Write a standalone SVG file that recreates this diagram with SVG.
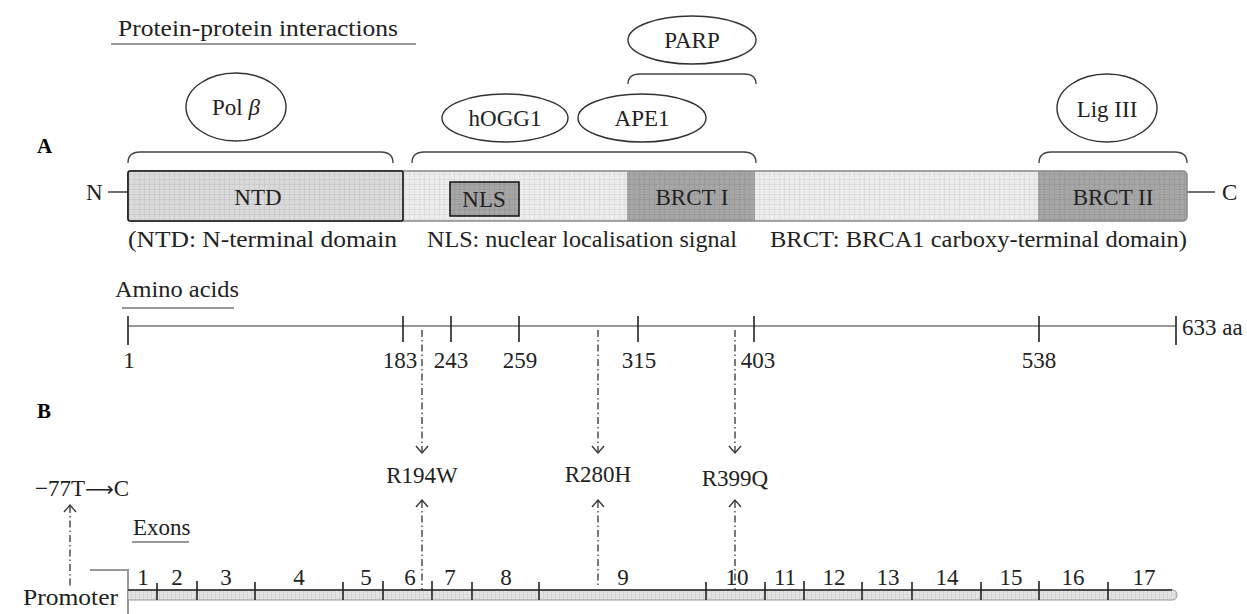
<svg xmlns="http://www.w3.org/2000/svg" width="1247" height="614" viewBox="0 0 1247 614">
<defs>
<style>
text{font-family:"Liberation Serif","Times New Roman",serif;fill:#222;font-size:23px}
.c{text-anchor:middle}
.b{font-weight:bold;font-size:21px;fill:#000}
.br{fill:none;stroke:#444;stroke-width:1.4}
.el{fill:#fff;stroke:#333;stroke-width:1.4}
.ul{stroke:#999;stroke-width:2.2}
.tk{stroke:#222;stroke-width:1.6}
.dd{stroke:#333;stroke-width:1.3;stroke-dasharray:7 3 1.5 3;fill:none}
.ah{fill:none;stroke:#333;stroke-width:1.3}
</style>
<pattern id="gL" width="5" height="5" patternUnits="userSpaceOnUse"><rect width="5" height="5" fill="#ececec"/><path d="M5 0V5M0 5H5" stroke="#cbcbcb" stroke-width="0.8"/></pattern>
<pattern id="gM" width="5" height="5" patternUnits="userSpaceOnUse"><rect width="5" height="5" fill="#dadada"/><path d="M5 0V5M0 5H5" stroke="#bbbbbb" stroke-width="0.8"/></pattern>
<pattern id="gD" width="5" height="5" patternUnits="userSpaceOnUse"><rect width="5" height="5" fill="#a6a6a6"/><path d="M5 0V5M0 5H5" stroke="#8c8c8c" stroke-width="0.8"/></pattern>
<pattern id="gE" width="4" height="10" patternUnits="userSpaceOnUse"><rect width="4" height="10" fill="#e2e2e2"/><path d="M4 0V10" stroke="#bdbdbd" stroke-width="0.8"/></pattern>
</defs>
<rect width="1247" height="614" fill="#fff"/>

<g id="panel-labels">
<text class="b" x="37" y="153">A</text>
<text class="b" x="37" y="418">B</text>
</g>

<g id="ppi-title">
<text x="118" y="36" textLength="280" lengthAdjust="spacingAndGlyphs">Protein-protein interactions</text>
<line class="ul" x1="111" y1="44" x2="416" y2="44"/>
</g>

<g id="polb">
<ellipse class="el" cx="236" cy="107" rx="50" ry="34"/>
<text class="c" x="236" y="115">Pol <tspan font-style="italic">β</tspan></text>
<path class="br" d="M128 163Q128 152 140 152H381Q393 152 393 163"/>
</g>

<g id="hogg1">
<ellipse class="el" cx="505" cy="118" rx="63" ry="24"/>
<text class="c" x="505" y="126">hOGG1</text>
</g>
<g id="ape1">
<ellipse class="el" cx="642" cy="118" rx="64" ry="24"/>
<text class="c" x="642" y="126">APE1</text>
</g>
<g id="parp">
<ellipse class="el" cx="692" cy="40" rx="64" ry="24"/>
<text class="c" x="692" y="48">PARP</text>
<path class="br" d="M628 84Q628 74 640 74H744Q756 74 756 84"/>
</g>
<g id="nls-bracket">
<path class="br" d="M412 163Q412 152 424 152H744Q756 152 756 163"/>
</g>
<g id="lig3">
<ellipse class="el" cx="1107" cy="108" rx="50" ry="34"/>
<text class="c" x="1107" y="117">Lig III</text>
<path class="br" d="M1039 163Q1039 152 1051 152H1175Q1187 152 1187 163"/>
</g>

<g id="protein">
<line x1="108" y1="192" x2="128" y2="192" stroke="#333" stroke-width="1.4"/>
<line x1="1187" y1="192" x2="1215" y2="192" stroke="#333" stroke-width="1.4"/>
<text x="86" y="200">N</text>
<text x="1222" y="200">C</text>
<rect x="128" y="171" width="1059" height="50" rx="4" fill="url(#gL)"/>
<rect x="627" y="171" width="128" height="50" fill="url(#gD)"/>
<path d="M1038 171H1182Q1187 171 1187 176V216Q1187 221 1182 221H1038Z" fill="url(#gD)"/>
<rect x="128" y="171" width="1059" height="50" rx="4" fill="none" stroke="#888" stroke-width="1.4"/>
<rect x="128" y="171" width="275" height="50" rx="2" fill="url(#gM)" stroke="#111" stroke-width="1.6"/>
<rect x="450" y="182" width="69" height="34" fill="url(#gD)" stroke="#111" stroke-width="1.5"/>
<text class="c" x="258" y="205">NTD</text>
<text class="c" x="484" y="207">NLS</text>
<text class="c" x="692" y="205">BRCT I</text>
<text class="c" x="1113" y="205">BRCT II</text>
</g>

<g id="legend">
<text x="128" y="247" textLength="269" lengthAdjust="spacingAndGlyphs">(NTD: N-terminal domain</text>
<text x="427" y="247" textLength="310" lengthAdjust="spacingAndGlyphs">NLS: nuclear localisation signal</text>
<text x="770" y="247" textLength="417" lengthAdjust="spacingAndGlyphs">BRCT: BRCA1 carboxy-terminal domain)</text>
</g>

<g id="aa-ruler">
<text x="115" y="297" textLength="124" lengthAdjust="spacingAndGlyphs">Amino acids</text>
<line class="ul" x1="122" y1="308" x2="234" y2="308"/>
<line x1="128" y1="326" x2="1176" y2="326" stroke="#999" stroke-width="2.2"/>
<line class="tk" x1="128" y1="316" x2="128" y2="345"/>
<line class="tk" x1="1176" y1="316" x2="1176" y2="345"/>
<line class="tk" x1="403" y1="316" x2="403" y2="342"/>
<line class="tk" x1="451" y1="316" x2="451" y2="342"/>
<line class="tk" x1="519" y1="316" x2="519" y2="342"/>
<line class="tk" x1="638" y1="316" x2="638" y2="342"/>
<line class="tk" x1="754" y1="316" x2="754" y2="342"/>
<line class="tk" x1="1039" y1="316" x2="1039" y2="342"/>
<text class="c" x="129" y="368">1</text>
<text class="c" x="400" y="368">183</text>
<text class="c" x="451" y="368">243</text>
<text class="c" x="520" y="368">259</text>
<text class="c" x="639" y="368">315</text>
<text class="c" x="758" y="368">403</text>
<text class="c" x="1039" y="368">538</text>
<text x="1182" y="335">633 aa</text>
</g>

<g id="connectors">
<line class="dd" x1="422" y1="330" x2="422" y2="452"/>
<polyline class="ah" points="416,446 422,453 428,446"/>
<line class="dd" x1="598" y1="330" x2="598" y2="452"/>
<polyline class="ah" points="592,446 598,453 604,446"/>
<line class="dd" x1="735" y1="330" x2="735" y2="452"/>
<polyline class="ah" points="729,446 735,453 741,446"/>
<line class="dd" x1="422" y1="501" x2="422" y2="590"/>
<polyline class="ah" points="416,507 422,500 428,507"/>
<line class="dd" x1="598" y1="501" x2="598" y2="588"/>
<polyline class="ah" points="592,507 598,500 604,507"/>
<line class="dd" x1="735" y1="501" x2="735" y2="590"/>
<polyline class="ah" points="729,507 735,500 741,507"/>
<line class="dd" x1="70" y1="506" x2="70" y2="588"/>
<polyline class="ah" points="64,512 70,505 76,512"/>
</g>

<g id="variants">
<text class="c" x="422" y="483">R194W</text>
<text class="c" x="598" y="482">R280H</text>
<text class="c" x="735" y="486">R399Q</text>
<text x="35" y="496">−77T<tspan font-family="DejaVu Sans" font-size="20">⟶</tspan>C</text>
</g>

<g id="gene">
<text x="133" y="535">Exons</text>
<line class="ul" x1="132" y1="542" x2="189" y2="542"/>
<path d="M90 570H128V614" fill="none" stroke="#999" stroke-width="2"/>
<text x="23" y="605" textLength="95" lengthAdjust="spacingAndGlyphs">Promoter</text>
<path d="M128 590H1172Q1177 590 1177 595Q1177 600 1172 600H128Z" fill="url(#gE)" stroke="#999" stroke-width="1"/>
<line x1="128" y1="590" x2="1172" y2="590" stroke="#222" stroke-width="1.4"/>
<g class="tk">
<line x1="157" y1="583" x2="157" y2="600"/>
<line x1="197" y1="581" x2="197" y2="600"/>
<line x1="255" y1="582" x2="255" y2="600"/>
<line x1="343" y1="582" x2="343" y2="600"/>
<line x1="383" y1="581" x2="383" y2="600"/>
<line x1="432" y1="581" x2="432" y2="600"/>
<line x1="472" y1="582" x2="472" y2="600"/>
<line x1="539" y1="582" x2="539" y2="600"/>
<line x1="706" y1="582" x2="706" y2="600"/>
<line x1="765" y1="582" x2="765" y2="600"/>
<line x1="804" y1="581" x2="804" y2="600"/>
<line x1="862" y1="582" x2="862" y2="600"/>
<line x1="912" y1="582" x2="912" y2="600"/>
<line x1="981" y1="582" x2="981" y2="600"/>
<line x1="1039" y1="581" x2="1039" y2="600"/>
<line x1="1108" y1="582" x2="1108" y2="600"/>
</g>
<text class="c" x="143" y="585">1</text>
<text class="c" x="177" y="585">2</text>
<text class="c" x="226" y="585">3</text>
<text class="c" x="299" y="585">4</text>
<text class="c" x="366" y="585">5</text>
<text class="c" x="410" y="585">6</text>
<text class="c" x="450" y="585">7</text>
<text class="c" x="506" y="585">8</text>
<text class="c" x="623" y="585">9</text>
<text class="c" x="737" y="585">10</text>
<text class="c" x="785" y="585">11</text>
<text class="c" x="834" y="585">12</text>
<text class="c" x="888" y="585">13</text>
<text class="c" x="947" y="585">14</text>
<text class="c" x="1011" y="585">15</text>
<text class="c" x="1073" y="585">16</text>
<text class="c" x="1144" y="585">17</text>
</g>
</svg>
